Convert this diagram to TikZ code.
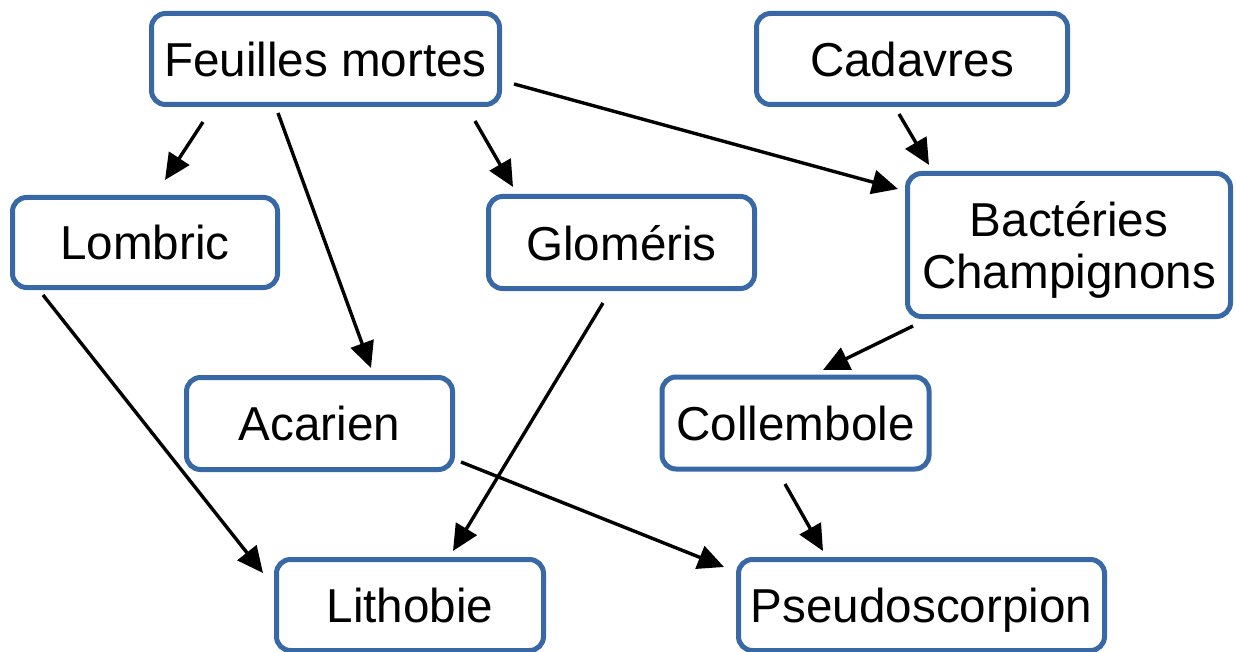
\documentclass[tikz,border=0pt]{standalone}
\usepackage{fontspec}
\setmainfont{Liberation Sans}
\usepackage{tikz}
\usetikzlibrary{arrows.meta, calc}
\definecolor{boxblue}{RGB}{56, 104, 166}

\begin{document}
\begin{tikzpicture}[x=0.5pt, y=-0.5pt,
    font=\fontsize{23.8}{26}\selectfont,
    taxon/.style={rectangle, draw=boxblue, line width=2.5pt, rounded corners=7pt,
      fill=white, align=center, inner sep=0pt, outer sep=0pt, text depth=0pt},
    link/.style={-{Triangle[length=13pt, width=12pt]}, line width=1.7pt, black}]
  \useasboundingbox (0,0) rectangle (1236,652);

  \node[taxon, minimum width=174pt, minimum height=45.5pt] (feuilles) at (325.5, 59) {Feuilles mortes};
  \node[taxon, minimum width=155.5pt, minimum height=45.5pt] (cadavres) at (912, 59) {Cadavres};
  \node[taxon, minimum width=132.5pt, minimum height=45pt] (lombric) at (145, 242.5) {Lombric};
  \node[taxon, minimum width=133pt, minimum height=46pt] (glomeris) at (621.5, 242.5) {Gloméris};
  \node[taxon, minimum width=161.5pt, minimum height=71.5pt] (bacteries) at (1069, 245) {Bactéries\\Champignons};
  \node[taxon, minimum width=133pt, minimum height=46pt] (acarien) at (319.5, 423.5) {Acarien};
  \node[taxon, minimum width=133.5pt, minimum height=46pt] (collembole) at (795.5, 423) {Collembole};
  \node[taxon, minimum width=133.5pt, minimum height=45.5pt] (lithobie) at (410, 605) {Lithobie};
  \node[taxon, minimum width=183pt, minimum height=45.5pt] (pseudo) at (921.5, 605) {Pseudoscorpion};

  % who eats what
  \draw[link] ($(feuilles.south)+(-122.5,17.5)$) -- ($(lombric.north)+(20,-17.5)$);
  \draw[link] ($(feuilles.south)+(-47.5,8.5)$) -- ($(acarien.north)+(51.5,-9.5)$);
  \draw[link] ($(feuilles.south)+(149.5,16.5)$) -- ($(glomeris.north)+(-108.5,-9.5)$);
  \draw[link] ($(feuilles.east)+(14.5,25)$) -- ($(bacteries.west)+(-9.5,-56)$);
  \draw[link] ($(cadavres.south)+(-13,9.5)$) -- ($(bacteries.north)+(-140,-8.5)$);
  \draw[link] ($(lombric.south)+(-102,7.5)$) -- ($(lithobie.north)+(-147,13.5)$);
  \draw[link] ($(glomeris.south)+(-18.5,14.5)$) -- ($(lithobie.north)+(43,-8.5)$);
  \draw[link] ($(acarien.east)+(8.5,38.5)$) -- ($(pseudo.west)+(-14.5,-38)$);
  \draw[link] ($(bacteries.south)+(-156,9.5)$) -- ($(collembole.north)+(27.5,-7)$);
  \draw[link] ($(collembole.south)+(-10.5,15)$) -- ($(pseudo.north)+(-98.5,-8.5)$);
\end{tikzpicture}
\end{document}
